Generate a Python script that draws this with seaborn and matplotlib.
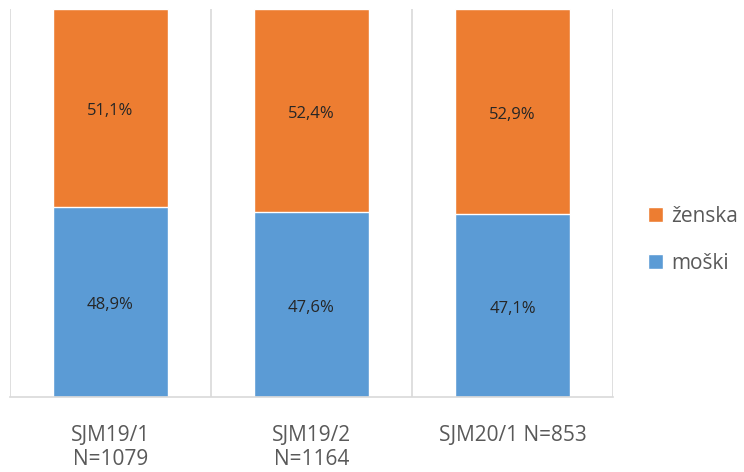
import pandas as pd
import matplotlib.pyplot as plt
import seaborn as sns

# Data
categories = ['SJM19/1\nN=1079', 'SJM19/2\nN=1164', 'SJM20/1 N=853']
moski = [48.9, 47.6, 47.1]
zenska = [51.1, 52.4, 52.9]

df = pd.DataFrame({'cat': categories, 'moski': moski, 'zenska': zenska})
df['total'] = df['moski'] + df['zenska']

sns.set_style('white')
plt.rcParams['font.family'] = ['Open Sans', 'DejaVu Sans']

fig = plt.figure(figsize=(7.44, 4.72), dpi=100)
ax = fig.add_axes([0.0134, 0.159, 0.8105, 0.822])

# orange = full stack, blue drawn over it
sns.barplot(data=df, x='cat', y='total', color='#ED7D31', saturation=1,
            width=0.57, ax=ax, label='ženska')
sns.barplot(data=df, x='cat', y='moski', color='#5B9BD5', saturation=1,
            width=0.57, ax=ax, label='moški')

# labels centred in each segment
top_bars = ax.containers[0]
bot_bars = ax.containers[1]
for bar, val, low in zip(top_bars, zenska, moski):
    ax.text(bar.get_x() + bar.get_width() / 2, low + val / 2 - 0.8,
            f'{val:.1f}%'.replace('.', ','), ha='center', va='center',
            fontsize=12, color='#262626')
for bar, val in zip(bot_bars, moski):
    ax.text(bar.get_x() + bar.get_width() / 2, val / 2 - 0.8,
            f'{val:.1f}%'.replace('.', ','), ha='center', va='center',
            fontsize=12, color='#262626')

ax.set_ylim(0, 100)
ax.set_xlim(-0.5, 2.5)
ax.set_xlabel('')
ax.set_ylabel('')
ax.set_yticks([])

# gridlines between categories
for xb in [-0.5, 0.5, 1.5, 2.5]:
    ax.axvline(xb, color='#D9D9D9', lw=1.2, zorder=0)

for s in ['top', 'right', 'left']:
    ax.spines[s].set_visible(False)
ax.spines['bottom'].set_color('#D9D9D9')
ax.spines['bottom'].set_linewidth(1.2)

ax.tick_params(axis='x', length=0, pad=20, labelsize=15, labelcolor='#595959')
for t in ax.get_xticklabels():
    t.set_linespacing(1.2)
    t.set_va('top')

handles, labels = ax.get_legend_handles_labels()
ax.legend(handles, labels, loc='center left', bbox_to_anchor=(1.027, 0.405),
          frameon=False, fontsize=15, labelcolor='#595959',
          handlelength=0.7, handleheight=0.7, handletextpad=0.4,
          labelspacing=1.25)

fig.savefig('out.png', dpi=100)
